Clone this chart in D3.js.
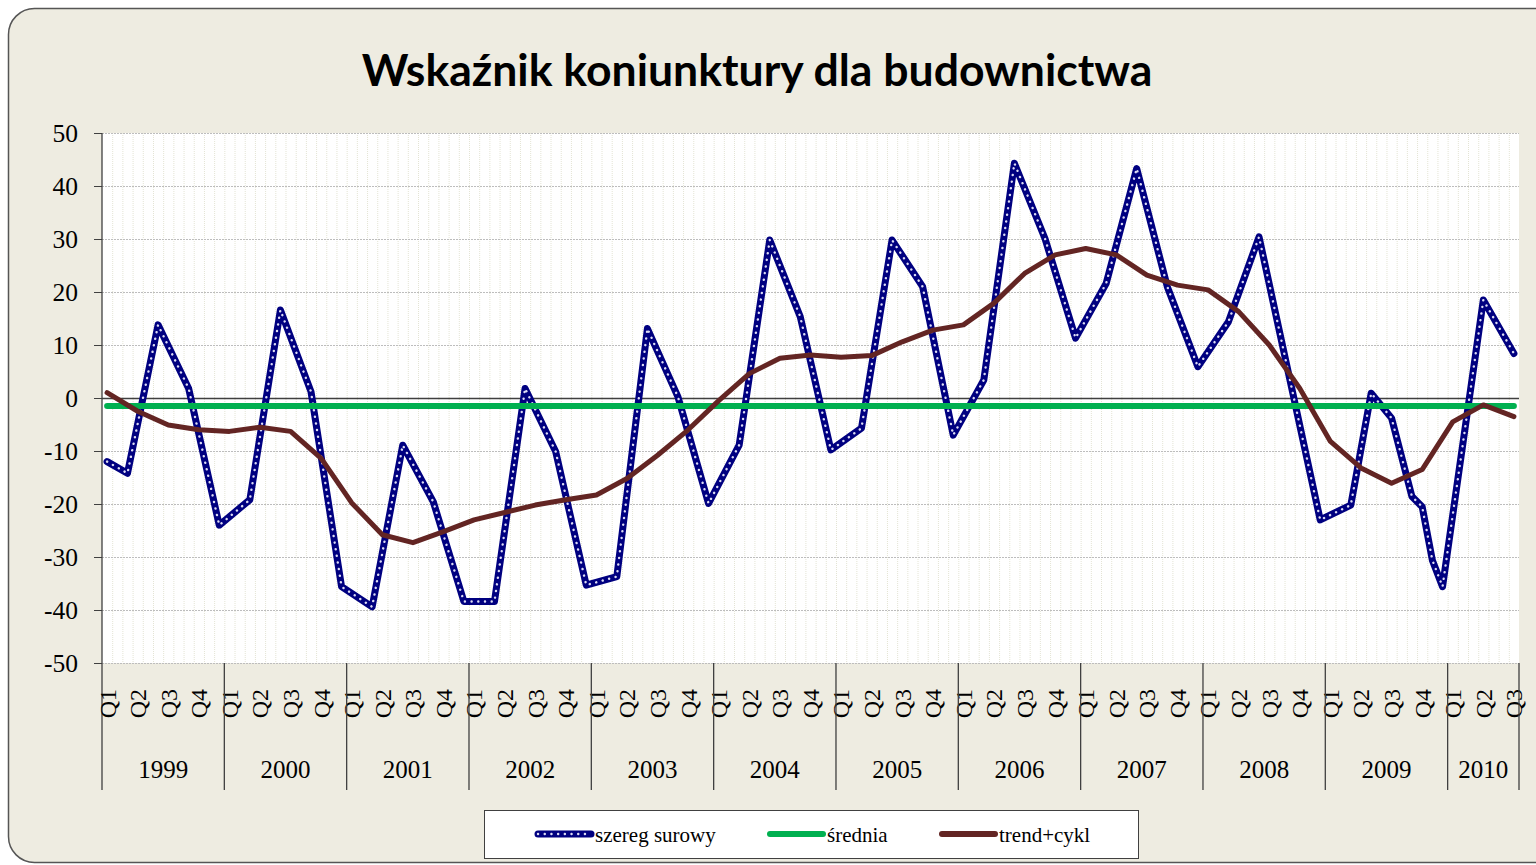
<!DOCTYPE html>
<html>
<head>
<meta charset="utf-8">
<script src="https://cdnjs.cloudflare.com/ajax/libs/d3/7.8.5/d3.min.js"></script>
<style>
  body { margin: 0; background: #fff; }
</style>
</head>
<body>
<div id="chart"></div>
<script>
const width = 1536;
const height = 865;

// data
const firstMonth = "1999-01";
const lastMonth = "2010-07";
const years = ["1999", "2000", "2001", "2002", "2003", "2004", "2005", "2006", "2007", "2008", "2009", "2010"];
const quarters = ["Q1", "Q2", "Q3", "Q4"];
const yTicks = [50, 40, 30, 20, 10, 0, -10, -20, -30, -40, -50];

const rawMonths = [
    "1999-01", "1999-03", "1999-06", "1999-09", "1999-12",
    "2000-03", "2000-06", "2000-09", "2000-12",
    "2001-03", "2001-06", "2001-09", "2001-12",
    "2002-03", "2002-06", "2002-09", "2002-12",
    "2003-03", "2003-06", "2003-09", "2003-12",
    "2004-03", "2004-06", "2004-09", "2004-12",
    "2005-03", "2005-06", "2005-09", "2005-12",
    "2006-03", "2006-06", "2006-09", "2006-12",
    "2007-03", "2007-06", "2007-09", "2007-12",
    "2008-03", "2008-06", "2008-09", "2008-12",
    "2009-03", "2009-05", "2009-07", "2009-09", "2009-10", "2009-11", "2009-12",
    "2010-04", "2010-07"
];
const rawValues = [
    -12.0, -14.2, 13.8, 1.8, -24.0,
    -19.2, 16.6, 1.2, -35.6,
    -39.4, -8.9, -19.6, -38.4,
    -38.4, 1.8, -10.1, -35.3,
    -33.7, 13.1, 0.2, -19.9,
    -8.9, 29.8, 15.3, -9.8,
    -5.7, 29.8, 21.0, -7.0,
    3.4, 44.3, 30.1, 11.3,
    21.6, 43.3, 21.0, 5.9,
    14.4, 30.4, 3.7, -23.0,
    -20.2, 0.9, -3.8, -18.6, -20.5, -30.6, -35.6,
    18.5, 8.4
];

// trend+cykl, one value per quarter (Jan, Apr, Jul, Oct)
const trendValues = [
    1.0, -2.5, -5.1, -6.0,
    -6.3, -5.5, -6.3, -11.4,
    -19.8, -25.8, -27.3, -25.2,
    -23.0, -21.6, -20.2, -19.2,
    -18.3, -15.2, -10.8, -6.0,
    -0.5, 4.6, 7.5, 8.1,
    7.7, 8.0, 10.6, 12.8,
    13.8, 17.9, 23.5, 27.0,
    28.2, 27.0, 23.2, 21.3,
    20.4, 16.3, 10.0, 1.8,
    -8.2, -13.2, -16.1, -13.5,
    -4.5, -1.3, -3.5
];

const meanMonths = ["1999-01", "2010-07"];
const meanValues = [-1.5, -1.5];

// months on the category axis
const parseMonth = d3.timeParse("%Y-%m");
const fmtMonth = d3.timeFormat("%Y-%m");
const allMonths = d3.timeMonth.range(parseMonth(firstMonth), d3.timeMonth.offset(parseMonth(lastMonth), 1));
const monthKeys = allMonths.map(fmtMonth);
const trendMonths = d3.timeMonth.every(3).range(parseMonth(firstMonth), d3.timeMonth.offset(parseMonth(lastMonth), 1)).map(fmtMonth);

const raw = rawMonths.map((m, i) => ({ month: m, value: rawValues[i] }));
const trend = trendMonths.map((m, i) => ({ month: m, value: trendValues[i] }));
const mean = meanMonths.map((m, i) => ({ month: m, value: meanValues[i] }));

const plot = { left: 102, right: 1519, top: 133, bottom: 663 };
const serif = "'Liberation Serif', 'Times New Roman', serif";

// scales
const xScale = d3.scaleBand().domain(monthKeys).range([plot.left, plot.right]);
const xc = m => xScale(m) + xScale.bandwidth() / 2;
const yScale = d3.scaleLinear().domain([-50, 50]).range([plot.bottom, plot.top]);

const svg = d3.select("#chart").append("svg").attr("width", width).attr("height", height);

// frame
svg.append("rect")
    .attr("x", 8.5).attr("y", 8.5)
    .attr("width", 1560).attr("height", 854)
    .attr("rx", 26).attr("ry", 26)
    .attr("fill", "#EEECE1")
    .attr("stroke", "#555")
    .attr("stroke-width", 1.5);

// title, squeezed to the width it has in the original
const title = svg.append("text")
    .attr("x", 757).attr("y", 86)
    .attr("text-anchor", "middle")
    .style("font-family", "Lato, 'Open Sans', sans-serif")
    .style("font-weight", "bold")
    .style("font-size", "42px")
    .style("fill", "#000")
    .text("Wskaźnik koniunktury dla budownictwa");
const tw = title.node().getComputedTextLength();
title.style("font-size", (42 * 791 / tw) + "px");

// plot area
svg.append("rect")
    .attr("x", plot.left).attr("y", plot.top)
    .attr("width", plot.right - plot.left).attr("height", plot.bottom - plot.top)
    .attr("fill", "#fff");

// vertical month gridlines
svg.append("g")
    .selectAll("line")
    .data(monthKeys.slice(1))
    .join("line")
    .attr("x1", d => xScale(d) + 0.5).attr("x2", d => xScale(d) + 0.5)
    .attr("y1", plot.top).attr("y2", plot.bottom)
    .attr("stroke", "#e4e4d4")
    .attr("stroke-dasharray", "1,1");

// horizontal gridlines
svg.append("g")
    .selectAll("line")
    .data(yTicks.filter(d => d !== 0))
    .join("line")
    .attr("x1", plot.left).attr("x2", plot.right)
    .attr("y1", d => yScale(d) + 0.5).attr("y2", d => yScale(d) + 0.5)
    .attr("stroke", "#bdbdbd")
    .attr("stroke-dasharray", "2,1");

// zero line
svg.append("line")
    .attr("x1", plot.left).attr("x2", plot.right)
    .attr("y1", yScale(0) + 0.5).attr("y2", yScale(0) + 0.5)
    .attr("stroke", "#404040")
    .attr("stroke-width", 1.3);

// y axis (plain hyphen for negatives, as in the original)
const yAxis = svg.append("g")
    .attr("transform", `translate(${plot.left},0)`)
    .call(d3.axisLeft(yScale).tickValues(yTicks).tickFormat(d => String(d))
        .tickSize(8).tickPadding(16).tickSizeOuter(0));
yAxis.select(".domain").remove();
yAxis.selectAll(".tick line").attr("stroke", "#404040");
yAxis.selectAll(".tick text")
    .style("font-family", serif)
    .style("font-size", "25.5px")
    .style("fill", "#000");

svg.append("line")
    .attr("x1", plot.left).attr("x2", plot.left)
    .attr("y1", plot.top).attr("y2", 790)
    .attr("stroke", "#404040").attr("stroke-width", 1.3);

// quarter labels
svg.append("g")
    .selectAll("text")
    .data(trendMonths)
    .join("text")
    .attr("transform", d => `translate(${xc(d)},689) rotate(-90)`)
    .attr("text-anchor", "end")
    .attr("dy", "0.35em")
    .style("font-family", serif)
    .style("font-size", "24px")
    .style("fill", "#000")
    .text(d => quarters[Math.floor((+d.slice(5) - 1) / 3)]);

// year separators and labels
const yearSpan = years.map(y => {
    const ms = monthKeys.filter(m => m.startsWith(y));
    return { year: y, x0: xScale(ms[0]), x1: xScale(ms[ms.length - 1]) + xScale.bandwidth() };
});
svg.append("g")
    .selectAll("line")
    .data(yearSpan)
    .join("line")
    .attr("x1", d => d.x1).attr("x2", d => d.x1)
    .attr("y1", plot.bottom).attr("y2", 790)
    .attr("stroke", "#404040").attr("stroke-width", 1.3);
svg.append("g")
    .selectAll("text")
    .data(yearSpan)
    .join("text")
    .attr("x", d => (d.x0 + d.x1) / 2)
    .attr("y", 778)
    .attr("text-anchor", "middle")
    .style("font-family", serif)
    .style("font-size", "25px")
    .style("fill", "#000")
    .text(d => d.year);

// series
const line = d3.line().x(d => xc(d.month)).y(d => yScale(d.value));

svg.append("path")
    .datum(raw)
    .attr("d", line)
    .attr("fill", "none")
    .attr("stroke", "#000080")
    .attr("stroke-width", 7)
    .attr("stroke-linejoin", "round")
    .attr("stroke-linecap", "round");
svg.append("path")
    .datum(raw)
    .attr("d", line)
    .attr("fill", "none")
    .attr("stroke", "#dcdcf4")
    .attr("stroke-width", 2.4)
    .attr("stroke-dasharray", "0.1,6.6")
    .attr("stroke-linecap", "round");

svg.append("path")
    .datum(mean)
    .attr("d", line)
    .attr("fill", "none")
    .attr("stroke", "#00B050")
    .attr("stroke-width", 6)
    .attr("stroke-linecap", "round");

svg.append("path")
    .datum(trend)
    .attr("d", line)
    .attr("fill", "none")
    .attr("stroke", "#632523")
    .attr("stroke-width", 5)
    .attr("stroke-linejoin", "round")
    .attr("stroke-linecap", "round");

// legend
const legend = svg.append("g");
legend.append("rect")
    .attr("x", 484.5).attr("y", 810.5)
    .attr("width", 654).attr("height", 48)
    .attr("fill", "#fff")
    .attr("stroke", "#404040");

const legendItems = [
    { name: "szereg surowy", color: "#000080", x: 538, dots: true },
    { name: "średnia", color: "#00B050", x: 770 },
    { name: "trend+cykl", color: "#632523", x: 942 }
];
legendItems.forEach(d => {
    legend.append("line")
        .attr("x1", d.x).attr("x2", d.x + 53)
        .attr("y1", 834).attr("y2", 834)
        .attr("stroke", d.color)
        .attr("stroke-width", d.dots ? 7 : 6)
        .attr("stroke-linecap", "round");
    if (d.dots) {
        legend.append("line")
            .attr("x1", d.x).attr("x2", d.x + 53)
            .attr("y1", 834).attr("y2", 834)
            .attr("stroke", "#dcdcf4")
            .attr("stroke-width", 2.4)
            .attr("stroke-dasharray", "0.1,6.6")
            .attr("stroke-linecap", "round");
    }
    legend.append("text")
        .attr("x", d.x + 57)
        .attr("y", 842)
        .style("font-family", serif)
        .style("font-size", "21px")
        .style("fill", "#000")
        .text(d.name);
});
</script>
</body>
</html>
